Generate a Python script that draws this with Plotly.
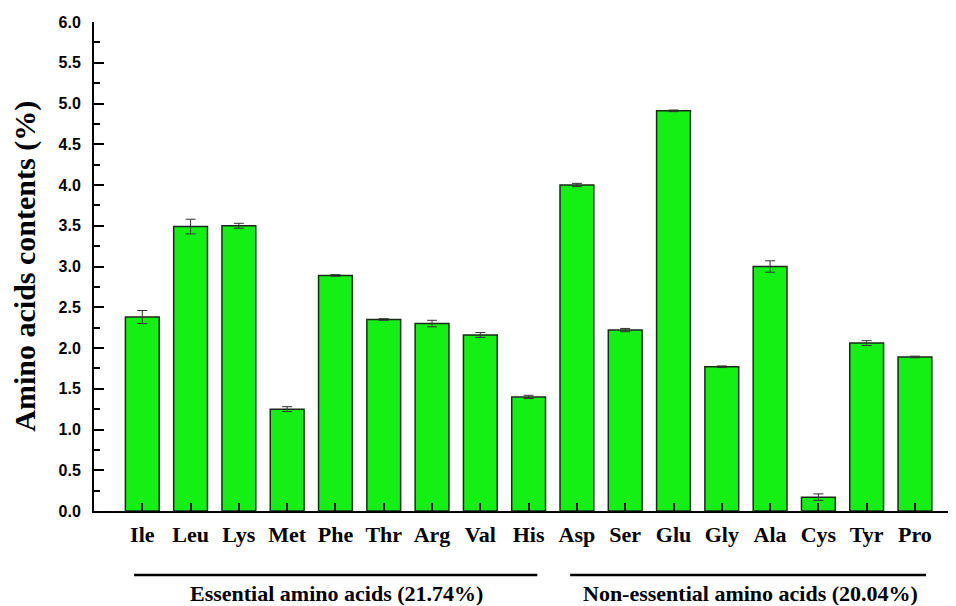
import plotly.graph_objects as go

amino_acids = ["Ile", "Leu", "Lys", "Met", "Phe", "Thr", "Arg", "Val", "His",
               "Asp", "Ser", "Glu", "Gly", "Ala", "Cys", "Tyr", "Pro"]
contents = [2.38, 3.49, 3.50, 1.25, 2.89, 2.35, 2.30, 2.16, 1.40,
            4.00, 2.22, 4.91, 1.77, 3.00, 0.17, 2.06, 1.89]
errors = [0.08, 0.09, 0.03, 0.03, 0.01, 0.01, 0.04, 0.03, 0.02,
          0.02, 0.02, 0.01, 0.01, 0.07, 0.04, 0.03, 0.01]
y_ticks = [0.0, 0.5, 1.0, 1.5, 2.0, 2.5, 3.0, 3.5, 4.0, 4.5, 5.0, 5.5, 6.0]
group_labels = ["Essential amino acids (21.74%)", "Non-essential amino acids (20.04%)"]

x_pos = list(range(len(amino_acids)))

fig = go.Figure()
fig.add_trace(go.Bar(
    x=x_pos, y=contents, width=0.7,
    marker=dict(color="#14f014", line=dict(color="#1a2a1a", width=1.5)),
    error_y=dict(type="data", array=errors, visible=True, color="#333333",
                 thickness=1, width=5),
    showlegend=False,
))

serif = "Liberation Serif, Times New Roman, serif"
sans = "Liberation Sans, Arial, sans-serif"

# page body has an 8px margin, so the figure is 8px smaller and margins compensate
fig.update_layout(
    width=948, height=598,
    margin=dict(l=86, r=0, t=14, b=95),
    plot_bgcolor="white", paper_bgcolor="white",
    bargap=0.3,
    xaxis=dict(
        range=[-1.0, 16.85], tickmode="array", tickvals=x_pos, ticktext=amino_acids,
        ticks="inside", ticklen=8, tickwidth=1.5, tickcolor="black",
        showline=True, linecolor="black", linewidth=2,
        showgrid=False, zeroline=False,
        tickfont=dict(family=serif, size=22, color="black", weight="bold"),
        ticklabelstandoff=3,
    ),
    yaxis=dict(
        range=[0, 6.0], tickmode="array", tickvals=y_ticks,
        ticktext=[f"{v:.1f}" for v in y_ticks],
        ticks="inside", ticklen=10, tickwidth=1.5, tickcolor="black",
        minor=dict(ticks="inside", ticklen=6, tickwidth=1.5, tickcolor="black", dtick=0.25),
        showline=True, linecolor="black", linewidth=2,
        showgrid=False, zeroline=False,
        tickfont=dict(family=sans, size=16, color="black", weight="bold"),
        ticklabelstandoff=8,
    ),
)

# Y axis title
fig.add_annotation(
    text="Amino acids contents (%)", textangle=-90,
    xref="paper", yref="paper", x=-0.081, y=0.5, xanchor="center", yanchor="middle",
    showarrow=False, font=dict(family=serif, size=30, color="black", weight="bold"),
)

# Group lines and labels
group_spans = [(-0.17, 8.18), (8.86, 16.23)]
group_centers = [4.02, 12.59]
for (x0, x1), xc, label in zip(group_spans, group_centers, group_labels):
    fig.add_shape(type="line", xref="x", yref="paper", x0=x0, x1=x1,
                  y0=-0.131, y1=-0.131, line=dict(color="black", width=2.5))
    fig.add_annotation(text=label, xref="x", yref="paper", x=xc, y=-0.168,
                       xanchor="center", yanchor="middle", showarrow=False,
                       font=dict(family=serif, size=22, color="black", weight="bold"))

fig.write_html("out.html")
